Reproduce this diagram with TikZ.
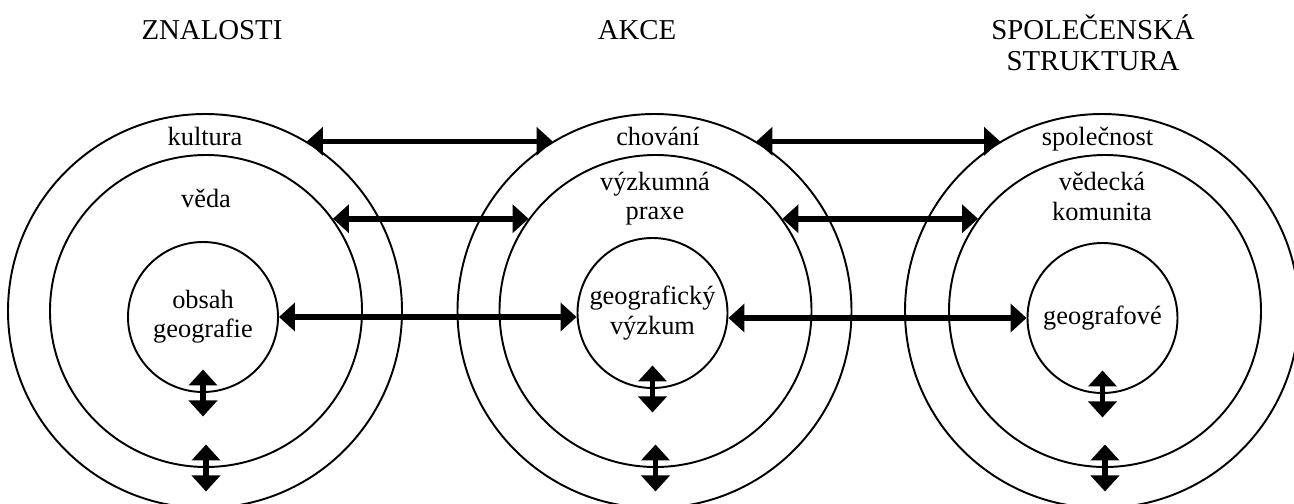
\documentclass[tikz,border=0pt]{standalone}
\usepackage{fontspec}
\setmainfont{Liberation Serif}
\usetikzlibrary{arrows.meta}

\tikzset{
  ring/.style={draw,circle,line width=1.1pt,inner sep=0pt},
  core/.style={ring,minimum size=3cm,align=center,font=\fontsize{15}{16.7}\selectfont},
  link/.style={line width=3.2pt,{Triangle[length=0.32cm,width=0.56cm]}-{Triangle[length=0.32cm,width=0.56cm]}},
  lbl/.style={font=\fontsize{15}{16.7}\selectfont,anchor=base,inner sep=0pt,align=center},
  head/.style={font=\fontsize{16.4}{18}\selectfont,anchor=base,inner sep=0pt}
}

\begin{document}
\begin{tikzpicture}
  \useasboundingbox (0,0) rectangle (25.88,10.06);

  % headings
  \node[head] (znalosti) at (4.24,9.28) {ZNALOSTI};
  \node[head] (akce) at (12.74,9.28) {AKCE};
  \node[head] (spolec) at (21.86,9.28) {SPOLEČENSKÁ};
  \node[head] (strukt) at (21.86,8.66) {STRUKTURA};

  % left circles
  \node[ring,minimum size=7.88cm] (kultura) at (4.10,3.84) {};
  \node[ring,minimum size=6.24cm] (veda) at (4.12,3.84) {};
  \node[core] (obsah) at (4.06,3.72) {obsah\\geografie};
  \node[lbl] (lkultura) at (4.10,7.16) {kultura};
  \node[lbl] (lveda) at (4.12,5.92) {věda};

  % middle circles
  \node[ring,minimum size=7.88cm] (chovani) at (13.09,3.84) {};
  \node[ring,minimum size=6.24cm] (praxe) at (13.11,3.84) {};
  \node[core] (vyzkum) at (13.05,3.80) {geografický\\výzkum};
  \node[lbl] (lchovani) at (13.16,7.16) {chování};
  \node[lbl] (lpraxe) at (13.10,5.67) {výzkumná\\praxe};

  % right circles
  \node[ring,minimum size=7.88cm] (spolecnost) at (22.04,3.84) {};
  \node[ring,minimum size=6.24cm] (komunita) at (22.10,3.84) {};
  \node[core] (geografove) at (22.05,3.70) {geografové};
  \node[lbl] (lspolecnost) at (21.95,7.16) {společnost};
  \node[lbl] (lkomunita) at (22.04,5.66) {vědecká\\komunita};

  % horizontal links
  \draw[link] (kultura.59) -- (chovani.121);
  \draw[link] (chovani.59) -- (spolecnost.121);
  \draw[link] (veda.36) -- (praxe.144);
  \draw[link] (praxe.36) -- (komunita.144);
  \draw[link] (obsah.east) -- (vyzkum.west |- obsah.east);
  \draw[link] (vyzkum.east |- geografove.west) -- (geografove.west);

  % vertical links
  \draw[link] ([yshift=0.47cm]obsah.south) -- ([yshift=-0.47cm]obsah.south);
  \draw[link] ([yshift=0.47cm]veda.south) -- ([yshift=-0.47cm]veda.south);
  \draw[link] ([yshift=0.47cm]vyzkum.south) -- ([yshift=-0.47cm]vyzkum.south);
  \draw[link] ([yshift=0.47cm]praxe.south) -- ([yshift=-0.47cm]praxe.south);
  \draw[link] ([yshift=0.47cm]geografove.south) -- ([yshift=-0.47cm]geografove.south);
  \draw[link] ([yshift=0.47cm]komunita.south) -- ([yshift=-0.47cm]komunita.south);
\end{tikzpicture}
\end{document}
